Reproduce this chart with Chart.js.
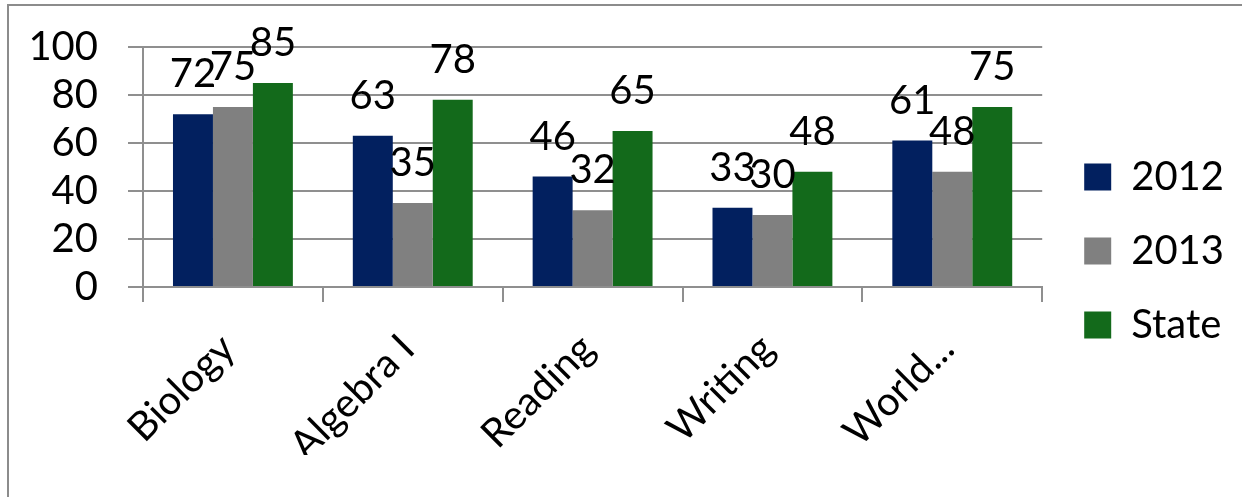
<!DOCTYPE html>
<html>
<head>
<meta charset="utf-8">
<script src="https://cdn.jsdelivr.net/npm/chart.js@4/dist/chart.umd.min.js"></script>
<style>
  html, body { margin: 0; padding: 0; background: #fff; }
  #wrap { position: relative; width: 1242px; height: 497px; overflow: hidden; }
  #frame {
    position: absolute; left: 7px; top: 4px; right: -4px; bottom: -4px;
    border-left: 2px solid #8c8c8c; border-top: 2px solid #8c8c8c;
  }
  #scores { position: absolute; left: 0; top: 0; }
</style>
</head>
<body>
<div id="wrap">
  <div id="frame"></div>
  <canvas id="scores" width="1242" height="497"></canvas>
</div>
<script>
const subjects = ['Biology', 'Algebra I', 'Reading', 'Writing', 'World...'];
const scores2012 = [72, 63, 46, 33, 61];
const scores2013 = [75, 35, 32, 30, 48];
const scoresState = [85, 78, 65, 48, 75];
const yTicks = [0, 20, 40, 60, 80, 100];

const FONT = 'Lato, "Open Sans", sans-serif';
const gridGray = '#8f8f8f';

// value labels sitting above each bar
const barValues = {
  id: 'barValues',
  afterDatasetsDraw(chart) {
    const ctx = chart.ctx;
    ctx.save();
    ctx.font = '40px ' + FONT;
    ctx.fillStyle = '#000';
    ctx.textAlign = 'center';
    ctx.textBaseline = 'middle';
    chart.data.datasets.forEach((ds, i) => {
      chart.getDatasetMeta(i).data.forEach((bar, j) => {
        ctx.fillText(String(ds.data[j]), bar.x, bar.y - 40);
      });
    });
    ctx.restore();
  }
};

new Chart(document.getElementById('scores'), {
  type: 'bar',
  data: {
    labels: subjects,
    datasets: [
      { label: '2012', data: scores2012, backgroundColor: '#02205f' },
      { label: '2013', data: scores2013, backgroundColor: '#808080' },
      { label: 'State', data: scoresState, backgroundColor: '#136a1b' }
    ]
  },
  options: {
    responsive: false,
    animation: false,
    categoryPercentage: 2 / 3,
    barPercentage: 1,
    layout: { padding: { top: 47, bottom: 42, left: 0, right: 8 } },
    plugins: {
      tooltip: { enabled: false },
      legend: {
        position: 'right',
        align: 'center',
        labels: {
          boxWidth: 27,
          boxHeight: 27,
          padding: 34,
          color: '#000',
          font: { family: FONT, size: 40 }
        }
      }
    },
    scales: {
      x: {
        afterFit(scale) { scale.height = 168; },
        grid: {
          drawOnChartArea: false,
          drawTicks: true,
          tickLength: 15,
          color: gridGray,
          lineWidth: 2
        },
        border: { color: gridGray, width: 2 },
        ticks: {
          minRotation: 45,
          maxRotation: 45,
          labelOffset: -5,
          padding: 23,
          color: '#000',
          font: { family: FONT, size: 40 }
        }
      },
      y: {
        min: 0,
        max: 100,
        afterFit(scale) {
          scale.width = 143;
          scale.paddingTop = 0;
          scale.paddingBottom = 0;
        },
        afterBuildTicks(scale) { scale.ticks = yTicks.map(v => ({ value: v })); },
        grid: { color: gridGray, lineWidth: 2, tickLength: 15 },
        border: { color: gridGray, width: 2 },
        ticks: {
          autoSkip: false,
          padding: 30,
          color: '#000',
          font: { family: FONT, size: 40 }
        }
      },
      // empty strip between the plot and the legend
      gap: {
        type: 'linear',
        position: 'right',
        afterFit(scale) {
          scale.width = 8;
          scale.paddingTop = 0;
          scale.paddingBottom = 0;
        },
        grid: { display: false },
        border: { display: false },
        ticks: { display: false }
      }
    }
  },
  plugins: [barValues]
});
</script>
</body>
</html>
